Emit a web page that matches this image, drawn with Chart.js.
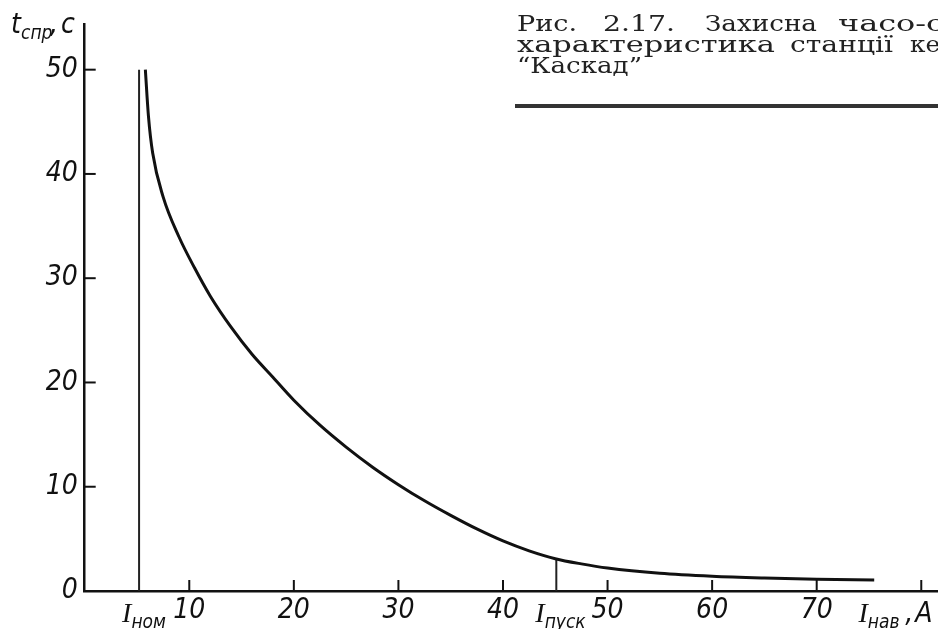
<!DOCTYPE html>
<html lang="uk">
<head>
<meta charset="UTF-8">
<title>Захисна часо-струмова характеристика</title>
<script src="https://cdn.jsdelivr.net/npm/chart.js@4.4.0/dist/chart.umd.min.js"></script>
<style>
  html, body { margin: 0; padding: 0; background: #fff; }
</style>
</head>
<body>
<canvas id="chart" width="938" height="629"></canvas>
<script>
// current, A  /  trip time, s
const currentA  = [5.8, 6.1, 6.5, 7.5, 9.0, 10.5, 12.0, 14.0, 16.0, 18.0, 20.0, 22.5, 25.0, 27.5, 30.0, 32.5, 35.0, 37.5, 40.0, 42.5, 45.0, 47.5, 50.0, 55.0, 60.0, 65.0, 70.0, 75.5]
const tripTimeS = [50, 45.5, 42.0, 37.8, 34.0, 31.0, 28.3, 25.3, 22.7, 20.5, 18.3, 15.9, 13.8, 11.9, 10.2, 8.65, 7.25, 5.95, 4.8, 3.85, 3.1, 2.6, 2.2, 1.7, 1.42, 1.25, 1.13, 1.05]

const nominalCurrent = 5.2   // I_ном
const nominalTime = [0, 50]
const startCurrent = 45.1    // I_пуск
const startTime = [0, 3.1]

const xTickValues = [10, 20, 30, 40, 50, 60, 70, 80]
const xTickLabels = ['10', '20', '30', '40', '50', '60', '70', '']
const yTickValues = [0, 10, 20, 30, 40, 50]

const captionLines = [
  ['Рис.', '2.17.', 'Захисна', 'часо-с'],
  ['характеристика', 'станції', 'ке'],
  ['“Каскад”']
]

const numFont = { family: '"Liberation Sans Narrow", "DejaVu Sans Condensed", sans-serif', size: 28, style: 'italic' }
const ink = '#111'

// ticks point inward, so they are drawn here from the scales
const extras = {
  id: 'extras',
  afterDraw(chart) {
    const ctx = chart.ctx
    const x = chart.scales.x, y = chart.scales.y
    const x0 = x.getPixelForValue(0), y0 = y.getPixelForValue(0)
    ctx.save()
    ctx.strokeStyle = ink
    ctx.lineWidth = 2
    xTickValues.forEach(v => {
      const px = x.getPixelForValue(v)
      ctx.beginPath(); ctx.moveTo(px, y0); ctx.lineTo(px, y0 - 11); ctx.stroke()
    })
    yTickValues.slice(1).forEach(v => {
      const py = y.getPixelForValue(v)
      ctx.beginPath(); ctx.moveTo(x0 - 1, py); ctx.lineTo(x0 + 11, py); ctx.stroke()
    })

    // symbol labels with subscripts
    ctx.fillStyle = ink
    ctx.textBaseline = 'alphabetic'
    const big = 'italic 28px "Liberation Serif", "DejaVu Serif", serif'
    const sub = 'italic 19px "Liberation Sans Narrow", "DejaVu Sans Condensed", sans-serif'
    const narrow = 'italic 28px "Liberation Sans Narrow", "DejaVu Sans Condensed", sans-serif'
    function symbol(px, base, s) {
      ctx.font = big
      ctx.fillText('I', px, base)
      const w = ctx.measureText('I').width
      ctx.font = sub
      ctx.fillText(s, px + w, base + 6)
    }
    const base = y0 + 31
    symbol(x.getPixelForValue(nominalCurrent) - 17, base, 'ном')
    symbol(x.getPixelForValue(startCurrent) - 21, base, 'пуск')
    symbol(x.getPixelForValue(74), base, 'нав')
    ctx.font = narrow
    ctx.fillText(',', x.getPixelForValue(80) - 16, base)
    ctx.fillText('A', x.getPixelForValue(80) - 6, base)

    // axis title t_спр, с
    ctx.fillText('t', 11, 33)
    ctx.fillText(',', 50, 33)
    ctx.fillText('c', 61, 33)
    ctx.font = sub
    ctx.fillText('спр', 21, 39)

    // caption, justified like the book page
    ctx.font = '22px "DejaVu Serif", "Liberation Serif", serif'
    ctx.fillStyle = '#222'
    const wordBoxes = [
      [[517, 577], [603, 675], [705, 817], [838, 944]],
      [[517, 775], [790, 893], [910, 940]],
      [[517, 642]]
    ]
    captionLines.forEach((line, i) => {
      const by = 31 + i * 21
      line.forEach((w, j) => {
        const [a, b] = wordBoxes[i][j]
        const mw = ctx.measureText(w).width
        ctx.save()
        ctx.translate(a, by)
        ctx.scale((b - a) / mw, 1)
        ctx.fillText(w, 0, 0)
        ctx.restore()
      })
    })
    ctx.fillStyle = '#333'
    ctx.fillRect(515, 104, 423, 4)
    ctx.restore()
  }
}

const line = (data, width, color) => ({
  data, showLine: true, borderColor: color, borderWidth: width,
  pointRadius: 0, fill: false
})

new Chart(document.getElementById('chart'), {
  type: 'scatter',
  data: {
    datasets: [
      Object.assign(line(currentA.map((v, i) => ({ x: v, y: tripTimeS[i] })), 3, ink),
        { cubicInterpolationMode: 'monotone' }),
      line(nominalTime.map(t => ({ x: nominalCurrent, y: t })), 2, '#222'),
      line(startTime.map(t => ({ x: startCurrent, y: t })), 2, '#222')
    ]
  },
  options: {
    responsive: false,
    animation: false,
    devicePixelRatio: 1,
    layout: { padding: { top: 20, right: 0, left: 0, bottom: 0 } },
    plugins: { legend: { display: false }, tooltip: { enabled: false } },
    scales: {
      x: {
        type: 'linear', min: 0, max: 81.6,
        afterBuildTicks: s => { s.ticks = xTickValues.map(v => ({ value: v })) },
        afterFit: s => { s.height = 38 },
        ticks: {
          callback: v => xTickLabels[xTickValues.indexOf(v)],
          font: numFont, color: ink, padding: 3, maxRotation: 0, autoSkip: false
        },
        grid: { display: false, drawTicks: false },
        border: { display: true, color: ink, width: 2.5 }
      },
      y: {
        min: 0, max: 54.4,
        afterBuildTicks: s => { s.ticks = yTickValues.map(v => ({ value: v })) },
        afterFit: s => { s.width = 84.7 },
        ticks: { font: numFont, color: ink, padding: 7 },
        grid: { display: false, drawTicks: false },
        border: { display: true, color: ink, width: 2.5 }
      }
    }
  },
  plugins: [extras]
})
</script>
</body>
</html>
